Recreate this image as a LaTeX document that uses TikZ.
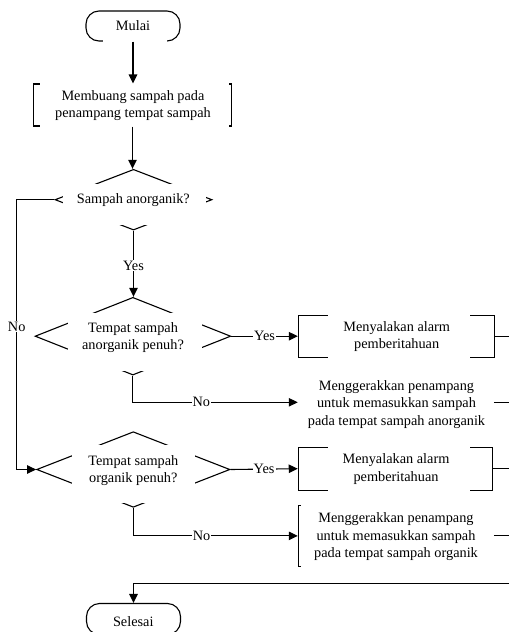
\documentclass[tikz,border=0pt]{standalone}
\usepackage{fontspec}
\setmainfont{Liberation Serif}
\usetikzlibrary{arrows.meta,shapes.geometric,calc}
\begin{document}
\begin{tikzpicture}[x=1pt,y=-1pt,
  line width=1.1pt,
  txt/.style={font=\fontsize{14.3}{17.3}\selectfont, align=center, inner sep=0pt},
  term/.style={draw, rounded corners=13pt, minimum width=94pt, minimum height=30pt, inner sep=0pt},
  proc/.style={draw, inner sep=0pt},
  ghost/.style={inner sep=0pt},
  dec/.style={draw, diamond, inner sep=0pt},
  arr/.style={-{Triangle[length=9pt,width=8.5pt]}},
  lab/.style={font=\fontsize{14.3}{17.3}\selectfont, fill=white, inner sep=1pt},
  mask/.style={fill=white}
]
\useasboundingbox (0,0) rectangle (509,632);
\coordinate (edge) at (509,0);
\coordinate (lx) at (16.7,0);
\coordinate (merge) at (509,583.3);

% Mulai
\node[term] (start) at (133,26) {};
\fill[mask] (103,33) rectangle (167,46);
\node[txt] (startt) at (133,26) {Mulai};

% Membuang
\node[proc, minimum width=198.4pt, minimum height=42pt] (p0) at (132.5,105) {};
\fill[mask] (39.5,79) rectangle (229,131);
\node[txt] (p0t) at (133,105.5) {Membuang sampah pada\\penampang tempat sampah};

% Decision 1
\node[dec, minimum width=157pt, minimum height=60.7pt] (d1) at (133.5,199.7) {};
\fill[mask] (62.7,184.3) rectangle (206,225);
\node[txt] (d1t) at (133.3,200.5) {Sampah anorganik?};

% Decision 2
\node[dec, minimum width=195.7pt, minimum height=77.7pt] (d2) at (132.9,336.2) {};
\fill[mask] (68.3,312.7) rectangle (201.7,370.5);
\node[txt] (d2t) at (133,337.5) {Tempat sampah\\anorganik penuh?};

% Alarm 1
\node[proc, minimum width=195.7pt, minimum height=42.3pt] (a1) at (396.2,336.2) {};
\fill[mask] (328.3,310) rectangle (470,362);
\node[txt] (a1t) at (396.7,336.7) {Menyalakan alarm\\pemberitahuan};

% Menggerakkan 1
\node[ghost, minimum width=195pt, minimum height=60pt] (m1) at (395.8,402.3) {};
\node[txt] (m1t) at (396.5,404.4) {Menggerakkan penampang\\untuk memasukkan sampah\\pada tempat sampah anorganik};

% Decision 3
\node[dec, minimum width=193.3pt, minimum height=75.6pt] (d3) at (133.3,469.5) {};
\fill[mask] (71.7,445) rectangle (195,503);
\node[txt] (d3t) at (133.3,470.5) {Tempat sampah\\organik penuh?};

% Alarm 2
\node[proc, minimum width=194.4pt, minimum height=42.7pt] (a2) at (395.5,468.7) {};
\fill[mask] (328.3,442) rectangle (470,495);
\node[txt] (a2t) at (396,469) {Menyalakan alarm\\pemberitahuan};

% Menggerakkan 2
\node[proc, minimum width=195pt, minimum height=61.7pt] (m2) at (395.8,535.9) {};
\fill[mask] (301,500) rectangle (500,572);
\node[txt] (m2t) at (396,536.7) {Menggerakkan penampang\\untuk memasukkan sampah\\pada tempat sampah organik};

% Selesai
\node[term, minimum height=31pt] (end) at (133.5,619) {};
\node[txt] (endt) at (133.3,621.5) {Selesai};

% Connectors
\draw[arr] (start.south) -- (start.south |- p0.north);
\draw[arr] (p0.south) -- (p0.south |- d1.north);
\draw[arr] (d1.south) -- node[lab, pos=0.53] {Yes} (d1.south |- d2.north);
\draw[arr] (d1.west) -- (d1.west -| lx) -- node[lab, pos=0.47] {No} (d3.west -| lx) -- (d3.west);
\draw[arr] (d2.east) -- node[lab] {Yes} (a1.west);
\draw (a1.east) -- (a1.east -| edge);
\draw[arr] (d2.south) -- (d2.south |- m1.west) -- node[lab, pos=0.415] {No} (m1.west);
\draw (m1.east) -- (m1.east -| edge);
\draw[arr] (d3.east) -- node[lab] {Yes} (a2.west);
\draw (a2.east) -- (a2.east -| edge);
\draw[arr] (d3.south) -- (d3.south |- m2.west) -- node[lab, pos=0.415] {No} (m2.west);
\draw (m2.east) -- (m2.east -| edge);
\draw[arr, line width=1.6pt] (merge) -- (merge -| end.north) -- (end.north);
\end{tikzpicture}
\end{document}
